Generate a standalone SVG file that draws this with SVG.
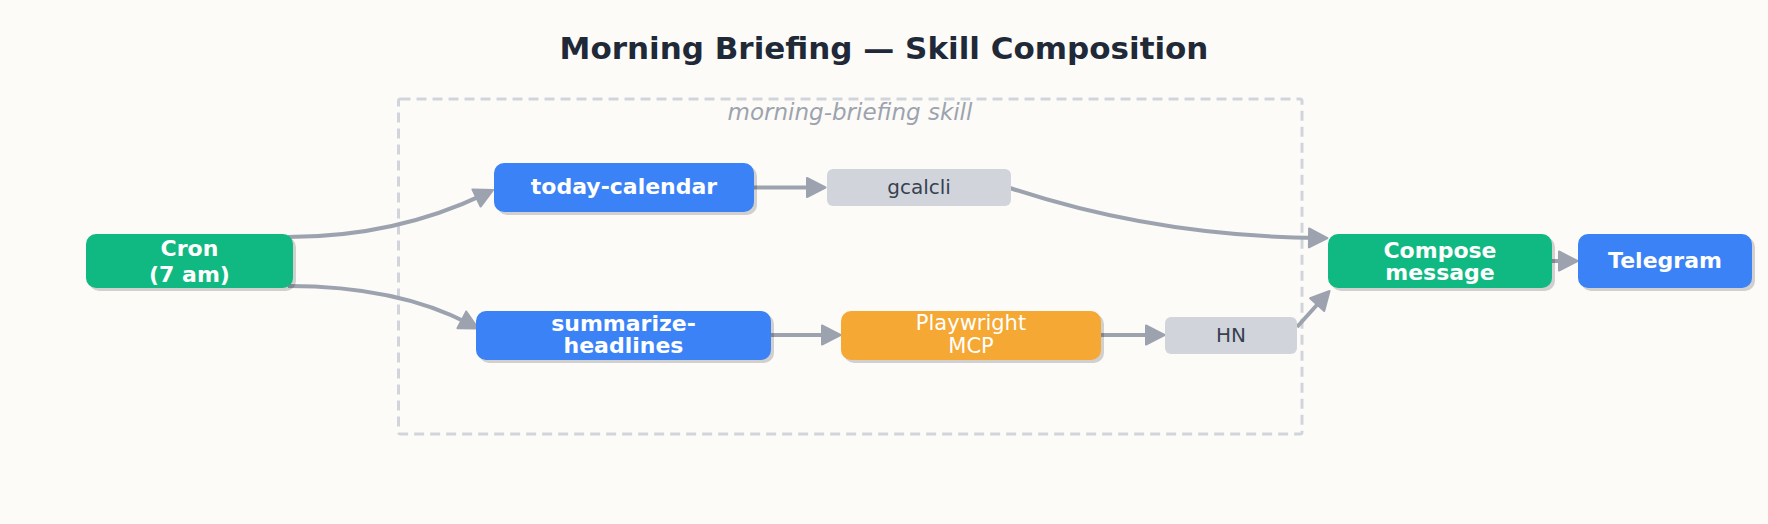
<svg xmlns="http://www.w3.org/2000/svg" width="1768" height="524" viewBox="0 0 1768 524">
  <style>
    text { font-family: "DejaVu Sans", "Liberation Sans", sans-serif; text-anchor: middle; }
    .title { font-size: 31px; font-weight: bold; fill: #1F2937; }
    .group-label { font-size: 23px; font-style: italic; fill: #9CA3AF; }
    .bold { font-size: 22px; font-weight: bold; fill: #FFFFFF; }
    .plain-w { font-size: 21px; fill: #FFFFFF; }
    .plain-d { font-size: 20px; fill: #374151; }
    .shadow { fill: #000000; opacity: 0.17; }
    .green { fill: #10B981; }
    .blue { fill: #3B82F6; }
    .orange { fill: #F5A833; }
    .gray { fill: #D1D5DB; }
    .edge { fill: none; stroke: #9CA3AF; stroke-width: 4; marker-end: url(#ah); }
  </style>
  <defs>
    <marker id="ah" markerUnits="userSpaceOnUse" viewBox="0 0 20 20" refX="10" refY="10" markerWidth="20" markerHeight="20" orient="auto" overflow="visible">
      <path d="M1,0.5 L19.5,10 L1,19.5 Z" fill="#9CA3AF" stroke="#9CA3AF" stroke-width="2" stroke-linejoin="round"/>
    </marker>
  </defs>

  <rect x="0" y="0" width="1768" height="524" fill="#FCFBF8"/>

  <text class="title" x="884" y="59">Morning Briefing — Skill Composition</text>

  <g id="skill-group">
    <rect x="398.5" y="99" width="903.5" height="335" rx="2" fill="none" stroke="#D1D5DB" stroke-width="3" stroke-dasharray="10 6"/>
    <text class="group-label" x="850" y="120">morning-briefing skill</text>
  </g>

  <g id="connectors">
    <path class="edge" d="M288,237 Q395,237 484.6,194.1"/>
    <path class="edge" d="M288,286 Q397.5,286 469.8,324.1"/>
    <path class="edge" d="M754,187.5 L816,187.5"/>
    <path class="edge" d="M1010,188 Q1155.5,236.5 1318,238"/>
    <path class="edge" d="M771,335 L831,335"/>
    <path class="edge" d="M1101,335 L1155,335"/>
    <path class="edge" d="M1297,327 L1323.2,298"/>
    <path class="edge" d="M1552,261 L1568,261"/>
  </g>

  <g id="cron">
    <rect class="shadow" x="89" y="237" width="207" height="54" rx="10"/>
    <rect class="green" x="86" y="234" width="207" height="54" rx="10"/>
    <text class="bold" x="189.5" y="256">Cron</text>
    <text class="bold" x="189.5" y="282">(7 am)</text>
  </g>

  <g id="today-calendar">
    <rect class="shadow" x="497" y="166" width="260" height="49" rx="10"/>
    <rect class="blue" x="494" y="163" width="260" height="49" rx="10"/>
    <text class="bold" x="624" y="194">today-calendar</text>
  </g>

  <g id="gcalcli">
    <rect class="gray" x="827" y="169" width="184" height="37" rx="6"/>
    <text class="plain-d" x="919" y="194">gcalcli</text>
  </g>

  <g id="summarize-headlines">
    <rect class="shadow" x="479" y="314" width="295" height="49" rx="10"/>
    <rect class="blue" x="476" y="311" width="295" height="49" rx="10"/>
    <text class="bold" x="623.5" y="330.5">summarize-</text>
    <text class="bold" x="623.5" y="352.8">headlines</text>
  </g>

  <g id="playwright-mcp">
    <rect class="shadow" x="844" y="314" width="260" height="49" rx="10"/>
    <rect class="orange" x="841" y="311" width="260" height="49" rx="10"/>
    <text class="plain-w" x="971" y="330">Playwright</text>
    <text class="plain-w" x="971" y="353.3">MCP</text>
  </g>

  <g id="hn">
    <rect class="gray" x="1165" y="317" width="132" height="37" rx="6"/>
    <text class="plain-d" x="1231" y="342">HN</text>
  </g>

  <g id="compose-message">
    <rect class="shadow" x="1331" y="237" width="224" height="54" rx="10"/>
    <rect class="green" x="1328" y="234" width="224" height="54" rx="10"/>
    <text class="bold" x="1440" y="257.5">Compose</text>
    <text class="bold" x="1440" y="279.5">message</text>
  </g>

  <g id="telegram">
    <rect class="shadow" x="1581" y="237" width="174" height="54" rx="10"/>
    <rect class="blue" x="1578" y="234" width="174" height="54" rx="10"/>
    <text class="bold" x="1665" y="268">Telegram</text>
  </g>
</svg>
